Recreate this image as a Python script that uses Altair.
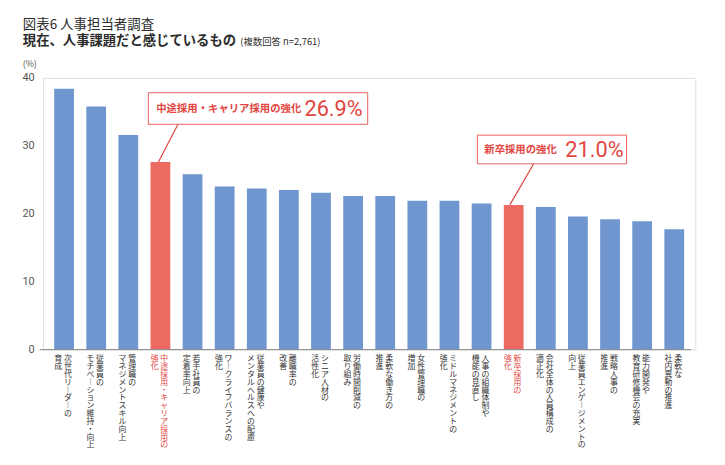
import altair as alt
import pandas as pd

line1 = ["次世代リーダーの", "従業員の", "管理職の", "中途採用・キャリア採用の", "若手社員の",
         "ワークライフバランスの", "従業員の健康や", "離職率の", "シニア人材の", "労働時間削減の",
         "柔軟な働き方の", "女性管理職の", "ミドルマネジメントの", "人事の組織体制や", "新卒採用の",
         "会社全体の人員構成の", "従業員エンゲージメントの", "戦略人事の", "能力開発や", "柔軟な"]
line2 = ["育成", "モチベーション維持・向上", "マネジメントスキル向上", "強化", "定着率向上",
         "強化", "メンタルヘルスへの配慮", "改善", "活性化", "取り組み",
         "推進", "増加", "強化", "機能の見直し", "強化",
         "適正化", "向上", "推進", "教育研修機会の充実", "社内異動の推進"]
values = [38.4, 35.8, 31.6, 27.6, 25.8, 24.0, 23.7, 23.5, 23.1, 22.6,
          22.6, 21.9, 21.9, 21.5, 21.3, 21.0, 19.6, 19.2, 18.9, 17.7]
highlight = [3, 14]
ann_text = ["中途採用・キャリア採用の強化", "新卒採用の強化"]
ann_pct = ["26.9%", "21.0%"]

BLUE = "#6f96cf"
RED_BAR = "#ec6a62"
RED = "#e2453f"
DARK = "#2b2b2b"

bars_df = pd.DataFrame({
    "idx": list(range(len(values))),
    "value": values,
    "kind": ["h" if i in highlight else "n" for i in range(len(values))],
})

rows = []
for i, (a, b) in enumerate(zip(line1, line2)):
    for li, txt_ in enumerate((a, b)):
        rows.append({"idx": i, "line": li,
                     "chars": [ch.replace("ー", "︱") for ch in txt_],
                     "kind": "h" if i in highlight else "n"})
cols_df = pd.DataFrame(rows)

xs = alt.Scale(domain=[-0.5, 19.5], nice=False, zero=False)
ys = alt.Scale(domain=[0, 40], nice=False)

bars = alt.Chart(bars_df).mark_bar(size=20).encode(
    x=alt.X("idx:Q", scale=xs, axis=None),
    y=alt.Y("value:Q", scale=ys, title=None,
            axis=alt.Axis(values=[0, 10, 20, 30, 40], ticks=False, domain=False, grid=False,
                          labelColor="#555", labelFontSize=11, labelFont="Roboto",
                          labelPadding=9)),
    color=alt.condition("datum.kind == 'h'", alt.value(RED_BAR), alt.value(BLUE)),
)

baseline = alt.Chart(pd.DataFrame({"v": [0]})).mark_rule(color="#888", strokeWidth=1).encode(
    y=alt.Y("v:Q", scale=ys), x=alt.value(-3.5), x2=alt.value(655.5)
)

labels = alt.Chart(cols_df).transform_calculate(
    px="datum.idx + (datum.line == 0 ? 0.12 : -0.18)",
    py="-6 / 6.875",
).mark_text(baseline="top", align="center", fontSize=8, lineHeight=7.9,
            font="Noto Sans CJK JP").encode(
    x=alt.X("px:Q", scale=xs),
    y=alt.Y("py:Q", scale=ys),
    text="chars",
    color=alt.condition("datum.kind == 'h'", alt.value(RED), alt.value("#333333")),
)

def txt(s, x, y, size, weight="normal", color=DARK, font="Noto Sans CJK JP", align="left"):
    return alt.Chart(pd.DataFrame({"t": [s]})).mark_text(
        align=align, baseline="alphabetic", fontSize=size, fontWeight=weight, color=color, font=font
    ).encode(text="t:N", x=alt.value(x), y=alt.value(y))

titles = [
    txt("図表6 人事担当者調査", -20.5, -49, 13.6),
    txt("現在、人事課題だと感じているもの", -20.5, -33, 13.5, "bold"),
    txt("(複数回答 n=2,761)", 199.5, -33.5, 9.5),
    txt("(%)", -13.5, -11, 9, color="#555", align="center"),
]

def box(x1, x2, y1, y2):
    return alt.Chart(pd.DataFrame({"a": [0]})).mark_rect(fill="white", stroke="#e8625c", strokeWidth=1).encode(
        x=alt.value(x1), x2=alt.value(x2), y=alt.value(y1), y2=alt.value(y2)
    )

def leader(i, dxu, bx, by):
    return alt.Chart(bars_df).transform_filter(f"datum.idx == {i}").transform_calculate(
        lx=f"datum.idx + ({dxu})"
    ).mark_rule(color=RED, strokeWidth=1.2).encode(
        x=alt.X("lx:Q", scale=xs), y=alt.Y("value:Q", scale=ys), x2=alt.value(bx), y2=alt.value(by)
    )

ann = [
    leader(highlight[0], -0.06, 136.5, 47),
    box(106.5, 328.5, 15, 47),
    txt(ann_text[0], 114.5, 35, 10.5, "bold", RED),
    txt(ann_pct[0], 264.5, 38.5, 22, "normal", RED, "Roboto"),
    leader(highlight[1], -0.12, 496.5, 87),
    box(439.5, 590.5, 58, 87),
    txt(ann_text[1], 446.5, 76, 10.5, "bold", RED),
    txt(ann_pct[1], 528.5, 80, 22, "normal", RED, "Roboto"),
]

chart = alt.layer(bars, baseline, labels, *titles, *ann).properties(
    width=660, height=275,
    autosize=alt.AutoSizeParams(type="none"),
    padding={"left": 35.5, "top": 68, "right": 22, "bottom": 106},
).configure_view(stroke=None).configure(background="white")

chart.save("out.html", embed_options={"renderer": "svg", "actions": False})
